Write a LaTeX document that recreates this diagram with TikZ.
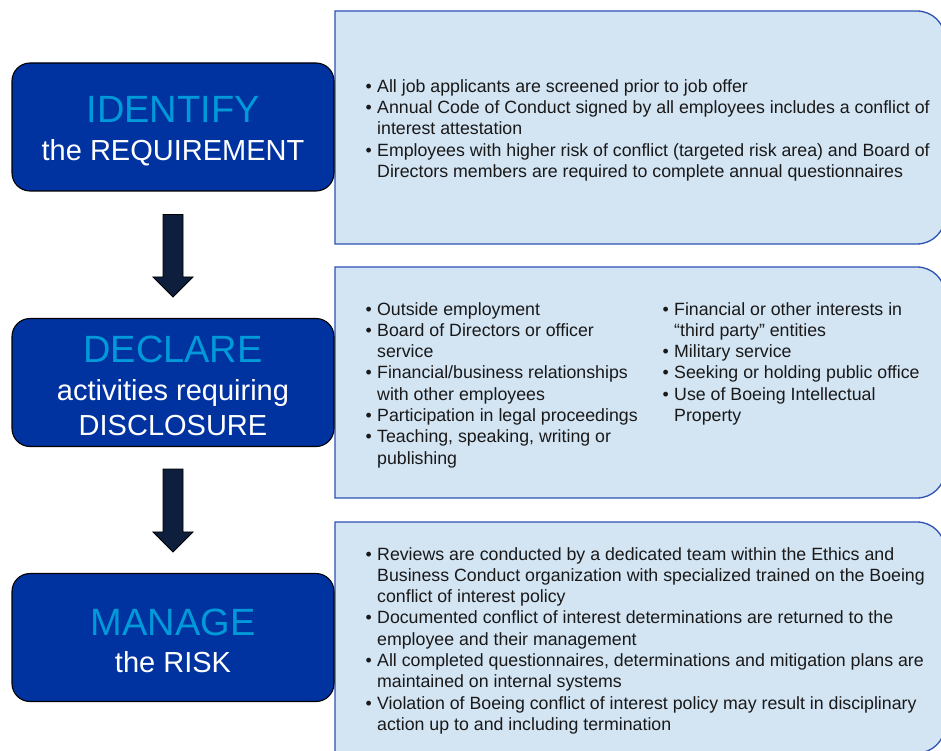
\documentclass[tikz,border=0pt]{standalone}
\usepackage{fontspec}
\setmainfont{Liberation Sans}
\usetikzlibrary{calc}
\definecolor{boeingblue}{RGB}{0,51,160}
\definecolor{cyanword}{RGB}{0,153,218}
\definecolor{panelfill}{RGB}{211,228,243}
\definecolor{panelline}{RGB}{44,82,180}
\definecolor{arrowfill}{RGB}{13,31,60}
\definecolor{bodytext}{RGB}{25,25,25}
\newcommand\B{\makebox[11.5pt][l]{•}}
\begin{document}
\begin{tikzpicture}[x=1pt,y=-1pt,
  stage/.style={draw=black,line width=1.1pt,fill=boeingblue,rounded corners=18pt,
    minimum width=322pt,minimum height=128pt,inner sep=0pt},
  bigword/.style={anchor=base,inner sep=0pt,text=cyanword,font=\fontsize{38}{40}\selectfont},
  subword/.style={anchor=base,inner sep=0pt,text=white,font=\fontsize{29}{31}\selectfont},
  panel/.style={fill=panelfill,draw=panelline,line width=1.3pt},
  list/.style={anchor=base west,inner sep=0pt,text=bodytext,font=\fontsize{17.75}{21.3}\selectfont},
  blockarrow/.style={fill=arrowfill,draw=black,line width=0.8pt}]
\useasboundingbox (0,0) rectangle (941,751);
\clip (0,0) rectangle (941,751);

% right panels
\draw[panel] (335,11) -- (917,11) arc(-90:0:28) -- (945,216) arc(0:90:28) -- (335,244) -- cycle;
\draw[panel] (335,267) -- (917,267) arc(-90:0:28) -- (945,470) arc(0:90:28) -- (335,498) -- cycle;
\draw[panel] (335,522) -- (917,522) arc(-90:0:28) -- (945,725) arc(0:90:28) -- (335,753) -- cycle;

% left stage boxes
\node[stage] (id) at (173,127) {};
\node[stage] (de) at (173,382.5) {};
\node[stage] (ma) at (173,637.5) {};

\node[bigword] (idw) at (173,123) {IDENTIFY};
\node[subword] (ids) at (173,161) {the REQUIREMENT};
\node[bigword] (dew) at (173,362) {DECLARE};
\node[subword] (des1) at (173,400) {activities requiring};
\node[subword] (des2) at (173,435) {DISCLOSURE};
\node[bigword] (maw) at (173,635) {MANAGE};
\node[subword] (mas) at (173,672) {the RISK};

% block arrows
\draw[blockarrow] ($(id.south)+(-10,23)$) -- ($(id.south)+(10,23)$) -- ($(de.north)+(10,-41)$)
  -- ($(de.north)+(20,-41)$) -- ($(de.north)+(0,-21)$) -- ($(de.north)+(-20,-41)$)
  -- ($(de.north)+(-10,-41)$) -- cycle;
\draw[blockarrow] ($(de.south)+(-10,22)$) -- ($(de.south)+(10,22)$) -- ($(ma.north)+(10,-41)$)
  -- ($(ma.north)+(20,-41)$) -- ($(ma.north)+(0,-21)$) -- ($(ma.north)+(-20,-41)$)
  -- ($(ma.north)+(-10,-41)$) -- cycle;

% lists
\node[list] (l1) at (365.5,92.3) {\begin{tabular}[t]{@{}l@{}l@{}}
\B & All job applicants are screened prior to job offer\\
\B & Annual Code of Conduct signed by all employees includes a conflict of\\
   & interest attestation\\
\B & Employees with higher risk of conflict (targeted risk area) and Board of\\
   & Directors members are required to complete annual questionnaires
\end{tabular}};

\node[list] (l2a) at (365.5,315) {\begin{tabular}[t]{@{}l@{}l@{}}
\B & Outside employment\\
\B & Board of Directors or officer\\
   & service\\
\B & Financial/business relationships\\
   & with other employees\\
\B & Participation in legal proceedings\\
\B & Teaching, speaking, writing or\\
   & publishing
\end{tabular}};

\node[list] (l2b) at (662.5,315) {\begin{tabular}[t]{@{}l@{}l@{}}
\B & Financial or other interests in\\
   & “third party” entities\\
\B & Military service\\
\B & Seeking or holding public office\\
\B & Use of Boeing Intellectual\\
   & Property
\end{tabular}};

\node[list] (l3) at (365.5,560) {\begin{tabular}[t]{@{}l@{}l@{}}
\B & Reviews are conducted by a dedicated team within the Ethics and\\
   & Business Conduct organization with specialized trained on the Boeing\\
   & conflict of interest policy\\
\B & Documented conflict of interest determinations are returned to the\\
   & employee and their management\\
\B & All completed questionnaires, determinations and mitigation plans are\\
   & maintained on internal systems\\
\B & Violation of Boeing conflict of interest policy may result in disciplinary\\
   & action up to and including termination
\end{tabular}};
\end{tikzpicture}
\end{document}
